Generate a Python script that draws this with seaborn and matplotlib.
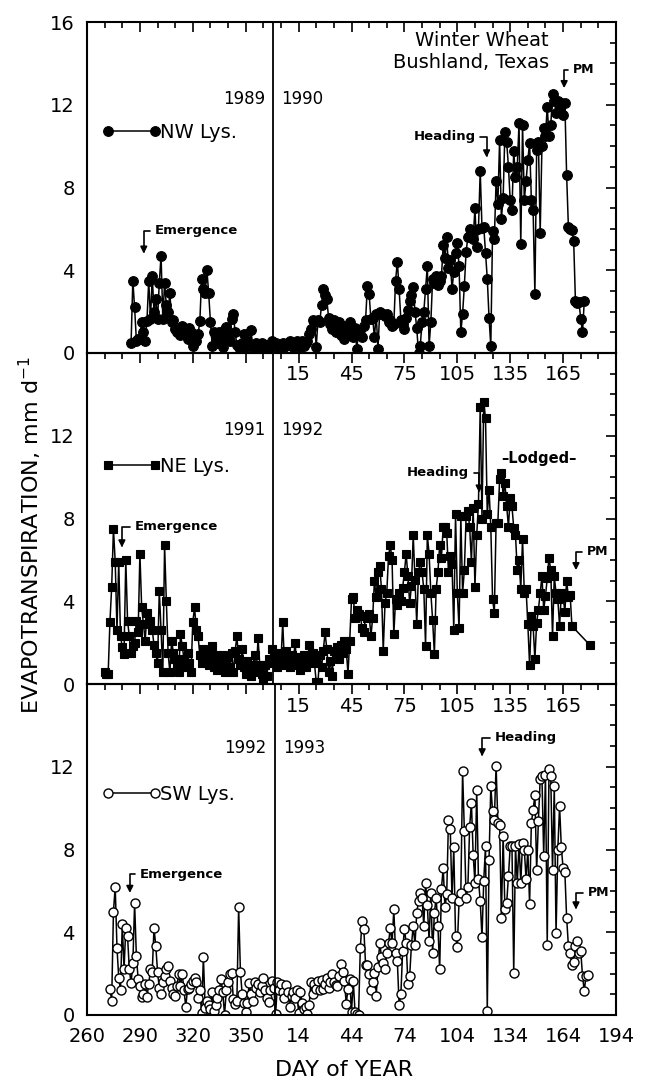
import numpy as np
import pandas as pd
import matplotlib
matplotlib.use("Agg")
import matplotlib.pyplot as plt
from matplotlib.legend_handler import HandlerLine2D
from matplotlib.ticker import MultipleLocator
import seaborn as sns

# ---------------- data (daily ET, mm/d; day counted from Jan 1 of first year) ----------------
nw_start_day = 285
nw_et = [0.5, 3.5, 2.2, 0.6, 0.7, 0.7, 1.5, 1.0, 0.6, 1.55,
         3.5, 1.65, 3.7, 2.0, 2.6, 1.65, 3.4, 4.7, 1.65, 3.4,
         2.3, 2.0, 2.9, 1.5, 1.6, 1.15, 1.0, 1.15, 0.85, 1.3,
         1.0, 0.9, 0.7, 1.2, 1.0, 0.35, 0.8, 0.6, 0.9, 1.55,
         3.6, 3.1, 2.9, 4.0, 2.9, 1.5, 0.35, 1.0, 0.8, 0.5,
         1.0, 0.6, 0.3, 1.15, 1.25, 0.9, 0.6, 1.65, 1.9, 1.0,
         0.4, 0.3, 0.2, 0.5, 0.9, 0.3, 0.6, 0.4, 1.1, 0.3,
         0.35, 0.5, 0.35, 0.3, 0.5, 0.4, 0.3, 0.4, 0.35, 0.3,
         0.6, 0.4, 0.5, 0.3, 0.4, 0.35, 0.5, 0.3, 0.45, 0.4,
         0.6, 0.5, 0.3, 0.5, 0.6, 0.5, 0.3, 0.6, 0.35, 0.5,
         0.6, 0.9, 1.15, 1.6, 1.5, 0.3, 1.6, 1.5, 2.3, 3.1,
         2.8, 2.6, 1.7, 1.4, 1.15, 1.6, 1.0, 1.25, 1.5, 0.85,
         1.3, 0.7, 1.1, 1.2, 1.5, 1.0, 0.75, 1.2, 0.2, 1.0,
         1.1, 0.75, 1.3, 1.6, 3.25, 2.85, 1.65,
         1.7, 0.75, 1.9, 0.2, 2.0, 1.9, 1.9, 1.8, 1.9, 1.5,
         1.6, 1.3, 1.4, 3.5, 4.4, 3.1, 1.6, 1.4, 1.15, 1.7,
         2.1, 2.5, 2.8, 3.2, 2.0, 1.2, 0.0, 0.35, 1.5, 2.0,
         3.1, 4.2, 0.35, 1.5, 3.6, 3.4, 3.7, 3.3, 3.5, 3.7,
         5.2, 4.6, 5.6, 4.1, 4.5, 3.1, 3.9, 4.85, 5.3, 4.2,
         1.0, 1.9, 3.25, 4.9, 5.6, 6.0, 5.8, 5.5, 7.0, 5.1,
         6.0, 8.8, 6.05, 6.1, 4.85, 3.6, 1.7, 0.35, 5.9, 5.5,
         8.3, 7.2, 10.3, 6.5, 7.5, 10.7, 10.2, 9.0, 7.4, 6.9,
         9.75, 8.5, 9.0, 11.1, 5.25, 11.0, 7.4, 8.3, 9.35, 10.15,
         7.4, 6.9, 2.85, 9.8, 10.2, 5.8, 10.0, 10.9, 10.5, 11.9,
         10.5, 11.0, 12.5, 12.2, 11.6, 12.2, 11.8, 12.1, 11.5, 12.1,
         8.6, 6.1, 6.0, 5.95, 5.4, 2.5, 2.4, 2.45, 1.65, 1.0, 2.5]

ne_start_day = 270
ne_et = [0.56, 0.5, 0.5, 3.0, 4.7, 7.5, 5.9, 2.6, 5.9, 2.3,
         1.8, 1.45, 6.0, 3.05, 2.3, 1.5, 1.85, 2.0, 3.05, 2.5,
         6.3, 3.7, 2.9, 2.1, 3.45, 3.0, 3.05, 2.6, 1.9, 1.5,
         1.0, 4.5, 2.6, 0.56, 6.7, 4.0, 1.5, 0.56, 2.1, 1.5,
         1.2, 0.9, 0.56, 2.4, 1.85, 1.2, 0.8, 1.5, 1.0, 0.56,
         3.0, 3.7, 2.6, 2.3, 1.4, 1.0, 1.7, 1.3, 1.5, 0.9,
         1.2, 1.85, 0.8, 1.4, 0.7, 1.0, 1.2, 1.4, 0.6, 1.1,
         1.3, 0.8, 1.5, 0.56, 1.6, 2.3, 1.2, 0.9, 1.7, 0.8,
         0.5, 1.1, 0.7, 0.4, 0.9, 1.4, 0.6, 2.2, 0.9, 0.5,
         0.25, 0.9, 0.4, 1.2, 1.0, 1.7, 1.4, 1.2, 0.8, 1.5,
         1.1, 3.0, 0.9, 1.6, 1.2, 0.8, 1.4, 1.1, 2.0, 0.9,
         1.3, 0.7, 1.0, 1.4, 0.8, 1.0, 1.9, 1.2, 1.5, 1.0,
         0.1, 0.1, 1.4, 0.8, 1.6, 2.5, 1.7, 0.6, 1.1, 0.4,
         1.6, 1.4, 1.8, 1.2, 1.9, 1.5, 2.1, 1.7, 0.5, 2.1,
         4.1, 4.2, 3.2, 3.6, 3.4, 3.3, 2.7, 2.5, 3.3, 3.2,
         3.4, 2.3, 3.2, 5.0, 4.2, 5.4, 5.7, 4.6, 1.6, 3.9,
         4.4, 6.2, 6.7, 6.0, 2.4, 4.1, 3.8, 4.4, 4.0, 4.65,
         5.4, 6.3, 5.2, 3.9, 4.75, 7.2, 5.05, 2.9, 5.4, 5.9,
         5.4, 4.6, 1.85, 7.2, 6.3, 4.4, 3.1, 1.45, 4.6, 5.4,
         6.7, 6.1, 7.6, 7.6, 7.3, 5.4, 6.2, 5.8, 2.6, 8.2,
         4.4, 2.7, 8.1, 4.4, 5.5, 8.1, 8.35, 7.6, 5.9, 8.5,
         4.7, 7.2, 8.7, 13.4, 8.0, 13.65, 12.85, 8.2, 9.4, 7.6,
         4.1, 3.45, 7.8, 7.8, 9.9, 10.2, 9.1, 9.7, 8.6, 7.6,
         9.0, 8.6, 7.55, 7.2, 5.5, 6.0, 4.6, 7.0, 4.4, 4.6,
         2.9, 0.9, 3.3, 2.8, 1.2, 2.97, 3.6, 4.4, 5.2, 3.6,
         4.25, 5.1, 6.1, 5.5, 2.3, 5.2, 4.4, 4.1, 2.8, 4.4,
         4.2, 3.5, 5.0, 4.2, 4.3, 2.8]
ne_final_day = 545
ne_final_et = 1.9

sw_start_day = 273
sw_et = [1.25, 0.7, 5.0, 6.2, 3.25, 1.8, 1.2, 4.4, 2.2, 4.2,
         3.8, 2.2, 1.55, 2.5, 5.4, 2.85, 1.75, 1.4, 0.85, 1.0,
         1.5, 0.85, 1.5, 2.2, 2.1, 4.2, 3.35, 2.1, 1.3, 1.0,
         1.6, 1.9, 2.2, 2.35, 1.65, 1.3, 1.0, 0.9, 1.4, 2.0,
         1.4, 2.0, 1.2, 0.4, 1.25, 1.3, 1.5, 1.65, 1.8, 1.6,
         0.8, 1.2, 0.1, 2.8, 0.35, 0.7, 0.5, 0.3, 1.1, 0.2,
         0.5, 0.8, 1.2, 1.75, 1.1, 0.0, 1.2, 1.6, 2.0, 2.05,
         0.75, 0.55, 0.7, 5.2, 2.1,
         1.0, 0.6, 0.15, 0.6, 1.55, 1.0, 0.7, 1.6, 1.3, 1.5,
         1.1, 1.4, 1.8, 1.2, 0.8, 0.65, 1.2, 1.65, 1.3, 0.05,
         1.6, 1.2, 1.5, 1.1, 0.8, 1.45, 1.1, 0.4, 0.9, 1.1,
         0.8, 1.2, 0.1, 1.1, 0.6, 0.3, 0.4, 0.05, 0.5, 1.6,
         1.0, 1.5, 1.25, 1.65, 1.2, 1.7, 1.25, 1.5, 1.8, 1.3,
         1.6, 2.0, 1.6, 1.45, 1.4, 1.9, 2.45, 2.1, 1.65, 0.55,
         1.25, 1.75, 0.15, 1.65, 0.15, 0.05, 0.0,
         3.25, 4.55, 4.15, 2.4,
         2.4, 2.0, 1.2, 1.6, 2.05, 0.9, 2.3, 3.5, 2.8, 2.5,
         2.2, 3.0, 3.5, 4.2, 3.5, 5.1, 3.0, 2.6, 0.5, 1.0,
         3.1, 4.15, 3.5, 1.5, 1.9, 3.4, 4.3, 3.4, 4.95, 5.5,
         5.9, 5.65, 4.3, 6.4, 5.3, 3.6, 5.9, 3.0, 4.95, 5.65,
         4.3, 2.2, 6.1, 7.1, 5.2, 5.85, 9.45, 9.0, 5.65, 8.1,
         3.8, 3.3, 5.5, 5.9, 11.8, 8.9, 5.65, 6.2, 9.1, 10.25,
         7.75, 6.4, 10.9, 6.55, 5.5, 3.75, 6.5, 8.15, 0.2, 7.5,
         11.05, 9.85, 9.45, 12.05, 9.3, 9.2, 4.7, 8.65, 5.1, 5.4,
         6.7, 8.15, 8.15, 2.05, 8.15, 6.4, 8.25, 6.4, 8.3, 8.0,
         6.55, 8.0, 5.35, 9.3, 9.9, 10.65, 7.0, 9.4, 11.4, 11.55,
         7.7, 11.6, 3.4, 11.9, 11.55, 7.0, 11.05, 3.95, 8.0, 10.1,
         8.1, 7.1, 6.9, 4.7, 3.35, 3.0, 2.4, 2.55, 3.35, 3.6,
         3.0, 3.1, 1.9, 1.15, 1.9, 1.95]

series_labels = ["NW Lys.", "NE Lys.", "SW Lys."]
year_pairs = [("1989", "1990"), ("1991", "1992"), ("1992", "1993")]
year_breaks = [365.5, 365.5, 366.5]

x_tick_days = [260, 290, 320, 350, 380, 410, 440, 470, 500, 530, 560]
x_labels_upper = ["", "", "", "", "15", "45", "75", "105", "135", "165", ""]
x_labels_bottom = ["260", "290", "320", "350", "14", "44", "74", "104", "134", "164", "194"]
y_ticks = [0, 4, 8, 12, 16]
y_labels_top = ["0", "4", "8", "12", "16"]
y_labels_lower = ["0", "4", "8", "12", ""]

# ---------------- build frames ----------------
nw_df = pd.DataFrame({"day": np.arange(nw_start_day, nw_start_day + len(nw_et)), "et": nw_et})
ne_days = list(np.arange(ne_start_day, ne_start_day + len(ne_et))) + [ne_final_day]
ne_df = pd.DataFrame({"day": ne_days, "et": ne_et + [ne_final_et]})
sw_df = pd.DataFrame({"day": np.arange(sw_start_day, sw_start_day + len(sw_et)), "et": sw_et})

sns.set_style("white")
plt.rcParams["font.family"] = ["DejaVu Sans"]
plt.rcParams["axes.linewidth"] = 1.5
for key in ["text.color", "axes.labelcolor", "xtick.color", "ytick.color", "axes.edgecolor"]:
    plt.rcParams[key] = "black"

fig = plt.figure(figsize=(6.45, 10.84), dpi=100)
L, R, B, T = 87 / 645, 616 / 645, 1 - 1015 / 1084, 1 - 22 / 1084
H = (T - B) / 3
axes = [fig.add_axes([L, B + (2 - i) * H, R - L, H]) for i in range(3)]

styles = [dict(marker="o", markersize=7, markerfacecolor="black", markeredgecolor="black", markeredgewidth=0.8),
          dict(marker="s", markersize=6, markerfacecolor="black", markeredgecolor="black", markeredgewidth=0.8),
          dict(marker="o", markersize=6.5, markerfacecolor="white", markeredgecolor="black", markeredgewidth=1.0)]
frames = [nw_df, ne_df, sw_df]
legend_y = [0.666, 0.657, 0.666]
year_y = [12.3, 12.3, 12.9]

for i, ax in enumerate(axes):
    ax.set_facecolor("none")
    sns.lineplot(data=frames[i], x="day", y="et", ax=ax, color="black", linewidth=1.1,
                 estimator=None, label=series_labels[i], **styles[i])
    ax.set_xlim(260, 560)
    ax.set_ylim(0, 16)
    ax.set_xlabel("")
    ax.set_ylabel("")
    ax.set_xticks(x_tick_days)
    ax.set_xticklabels(x_labels_bottom if i == 2 else x_labels_upper, fontsize=14)
    ax.set_yticks(y_ticks)
    ax.set_yticklabels(y_labels_top if i == 0 else y_labels_lower, fontsize=14)
    ax.xaxis.set_minor_locator(MultipleLocator(10))
    ax.yaxis.set_minor_locator(MultipleLocator(1))
    ax.tick_params(which="both", direction="in", top=True, right=True, width=1.2, colors="black")
    ax.tick_params(which="major", length=7)
    ax.tick_params(which="minor", length=4)
    ax.tick_params(axis="y", which="major", pad=9)
    ax.tick_params(axis="x", which="major", pad=9)
    for s in ax.spines.values():
        s.set_linewidth(1.5)
        s.set_color("black")
    ax.axvline(year_breaks[i], color="black", lw=1.3)
    ax.text(year_breaks[i] - 4.5, year_y[i], year_pairs[i][0], ha="right", va="center", fontsize=12)
    ax.text(year_breaks[i] + 4.5, year_y[i], year_pairs[i][1], ha="left", va="center", fontsize=12)
    h, l = ax.get_legend_handles_labels()
    ax.legend(h, l, loc="center left", bbox_to_anchor=(0.04, legend_y[i]), frameon=False,
              fontsize=14, handlelength=2.4, handletextpad=0.25, borderpad=0, borderaxespad=0,
              handler_map={h[0]: HandlerLine2D(numpoints=2, marker_pad=0)})


def mark(ax, text, tip, txt, ha, size=9.5):
    ax.annotate(text, xy=tip, xytext=txt, ha=ha, va="center", fontsize=size, fontweight="bold",
                arrowprops=dict(arrowstyle="-|>", connectionstyle="angle,angleA=0,angleB=90,rad=0",
                                color="black", lw=1.2, shrinkA=1, shrinkB=0, mutation_scale=10))


a1, a2, a3 = axes
a1.text(522, 14.58, "Winter Wheat\nBushland, Texas", ha="right", va="center",
        multialignment="right", fontsize=14, linespacing=1.15)
mark(a1, "Emergence", (292.2, 4.8), (298.4, 5.9), "left")
mark(a1, "Heading", (486.6, 9.45), (480.3, 10.45), "right")
mark(a1, "PM", (530.6, 12.8), (535.7, 13.7), "left", size=9)

mark(a2, "Emergence", (279.8, 6.6), (287.2, 7.6), "left")
mark(a2, "Heading", (482.4, 9.25), (476.7, 10.2), "right")
a2.text(516.4, 10.9, "–Lodged–", ha="center", va="center", fontsize=10.5, fontweight="bold")
mark(a2, "PM", (537.3, 5.5), (543.5, 6.4), "left", size=9)

mark(a3, "Emergence", (284.3, 5.9), (290.0, 6.8), "left")
mark(a3, "Heading", (484.1, 12.5), (491.0, 13.4), "left")
mark(a3, "PM", (537.3, 5.1), (544.0, 5.9), "left", size=9)

fig.text(344 / 645, 1 - 1070 / 1084, "DAY of YEAR", ha="center", va="center", fontsize=16)
fig.text(30 / 645, 1 - 535 / 1084, "EVAPOTRANSPIRATION, mm d$^{-1}$", rotation=90,
         ha="center", va="center", fontsize=16)

fig.savefig("out.png", dpi=100)
